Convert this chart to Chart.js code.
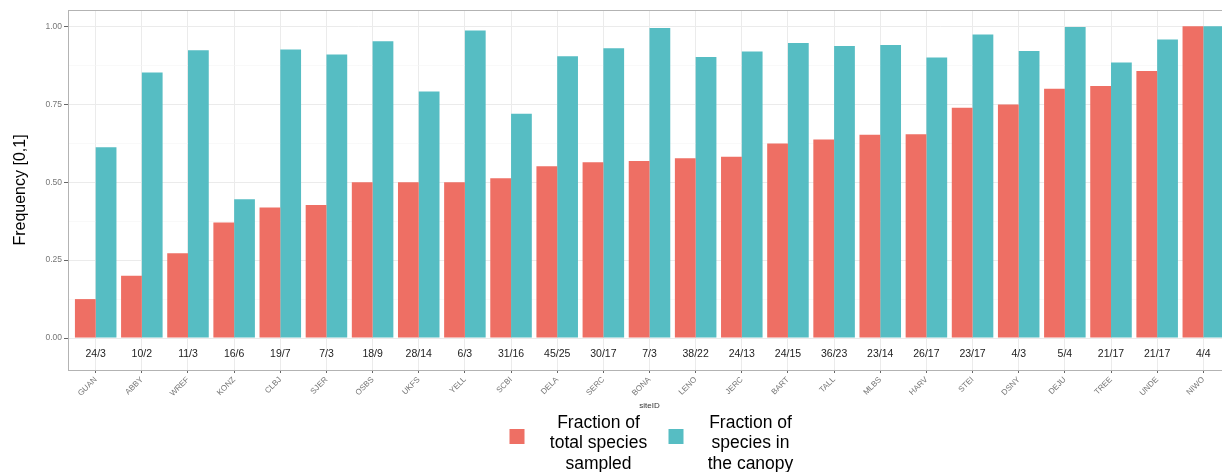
<!DOCTYPE html>
<html>
<head>
<meta charset="utf-8">
<script src="https://cdn.jsdelivr.net/npm/chart.js@4"></script>
<style>
  html, body { margin: 0; padding: 0; background: #fff; overflow: hidden; }
  #wrap { width: 1240px; height: 472px; }
</style>
</head>
<body>
<div id="wrap"><canvas id="myChart" width="1240" height="472"></canvas></div>
<script>
// site codes along the x axis
const sites = ['GUAN','ABBY','WREF','KONZ','CLBJ','SJER','OSBS','UKFS','YELL','SCBI','DELA','SERC','BONA',
  'LENO','JERC','BART','TALL','MLBS','HARV','STEI','DSNY','DEJU','TREE','UNDE','NIWO'];
// count labels printed under each pair of bars
const counts = ['24/3','10/2','11/3','16/6','19/7','7/3','18/9','28/14','6/3','31/16','45/25','30/17','7/3',
  '38/22','24/13','24/15','36/23','23/14','26/17','23/17','4/3','5/4','21/17','21/17','4/4'];
// fraction of total species sampled (red)
const fracTotal = [0.125,0.2,0.272,0.371,0.419,0.427,0.5,0.5,0.5,0.513,0.551,0.564,0.568,
  0.577,0.582,0.624,0.637,0.652,0.654,0.739,0.749,0.8,0.809,0.857,1.0];
// fraction of species in the canopy (teal)
const fracCanopy = [0.612,0.852,0.923,0.445,0.926,0.91,0.952,0.791,0.987,0.72,0.904,0.93,0.995,
  0.902,0.919,0.947,0.937,0.94,0.9,0.974,0.921,0.998,0.884,0.958,1.0];
const yTicks = [0, 0.125, 0.25, 0.375, 0.5, 0.625, 0.75, 0.875, 1];
const legendLines = [['Fraction of','total species','sampled'], ['Fraction of','species in','the canopy']];

const red = '#EE6F64';
const teal = '#56BDC3';
const font = '"Liberation Sans", Arial, sans-serif';
const isMajor = v => Math.abs(v * 4 - Math.round(v * 4)) < 1e-6;

const extras = {
  id: 'extras',
  afterDatasetsDraw(chart) {
    const c = chart.ctx, a = chart.chartArea;
    const xs = chart.scales.x, ys = chart.scales.y;
    c.save();
    // count labels under bars
    c.font = '10.5px ' + font;
    c.fillStyle = '#222';
    c.textAlign = 'center';
    c.textBaseline = 'middle';
    counts.forEach((t, i) => {
      c.fillText(t, xs.getPixelForValue(i), ys.getPixelForValue(-0.05));
    });
    // panel border
    c.strokeStyle = '#b3b3b3';
    c.lineWidth = 1;
    c.strokeRect(a.left + 0.5, a.top + 0.5, a.right - a.left - 1, a.bottom - a.top);
    c.restore();
  },
  afterDraw(chart) {
    const c = chart.ctx, a = chart.chartArea;
    const mid = (a.left + a.right) / 2;
    c.save();
    c.font = '17.5px ' + font;
    c.textAlign = 'center';
    c.textBaseline = 'middle';
    const keyX = [mid - 140, mid + 19];
    const txtX = [mid - 51, mid + 101];
    chart.data.datasets.forEach((ds, k) => {
      c.fillStyle = ds.backgroundColor;
      c.fillRect(keyX[k], 429, 15, 15);
      c.fillStyle = '#000';
      legendLines[k].forEach((ln, j) => c.fillText(ln, txtX[k], 423 + j * 20.6));
    });
    c.restore();
  }
};

const ctx = document.getElementById('myChart');
new Chart(ctx, {
  type: 'bar',
  data: {
    labels: sites,
    datasets: [
      { label: 'Fraction of total species sampled', data: fracTotal, backgroundColor: red,
        categoryPercentage: 0.9, barPercentage: 1.0, borderWidth: 0 },
      { label: 'Fraction of species in the canopy', data: fracCanopy, backgroundColor: teal,
        categoryPercentage: 0.9, barPercentage: 1.0, borderWidth: 0 }
    ]
  },
  options: {
    responsive: false,
    animation: false,
    layout: { padding: { top: 10, right: 9, left: 0, bottom: 0 } },
    plugins: { legend: { display: false }, tooltip: { enabled: false } },
    scales: {
      x: {
        // ggplot pads a discrete axis by 0.6 of a category on each side
        afterBuildTicks(s) {
          s._startValue = s.min - 0.6;
          s._valueRange = s.max - s.min + 1.2;
        },
        grid: { offset: false, color: '#ebebeb', tickLength: 3, tickColor: '#666' },
        border: { display: false },
        ticks: { autoSkip: false, minRotation: 45, maxRotation: 45, padding: 2,
          color: '#777', font: { size: 8, family: font } },
        title: { display: true, text: 'siteID', color: '#333',
          font: { size: 8, family: font }, padding: { bottom: 61 } },
        afterFit(s) { s.height = 102; }
      },
      y: {
        min: -0.1025, max: 1.0525,
        afterBuildTicks(s) { s.ticks = yTicks.map(v => ({ value: v })); },
        grid: {
          color: c => isMajor(c.tick.value) ? '#ebebeb' : '#f5f5f5',
          lineWidth: c => isMajor(c.tick.value) ? 1 : 0.6,
          tickColor: c => isMajor(c.tick.value) ? '#666' : 'rgba(0,0,0,0)',
          tickLength: 4
        },
        border: { display: false },
        ticks: { padding: 2, color: '#777', font: { size: 8.5, family: font },
          callback: v => isMajor(v) ? v.toFixed(2) : '' },
        title: { display: true, text: 'Frequency [0,1]', color: '#000',
          font: { size: 16, family: font }, padding: { top: 11 } },
        afterFit(s) { s.width = 68; }
      }
    }
  },
  plugins: [extras]
});
</script>
</body>
</html>
